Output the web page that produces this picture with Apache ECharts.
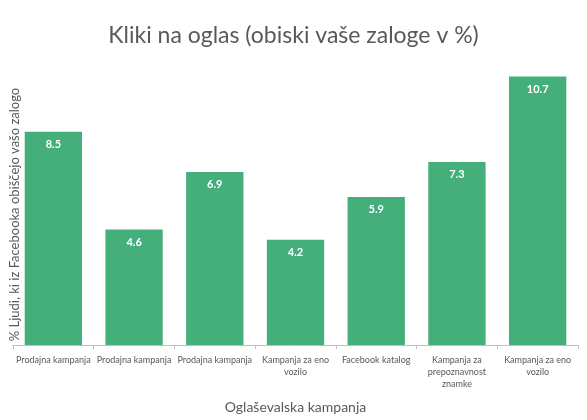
<!DOCTYPE html>
<html>
<head>
<meta charset="utf-8">
<script src="https://cdn.jsdelivr.net/npm/echarts@6/dist/echarts.min.js"></script>
<style>
  html, body { margin: 0; padding: 0; background: #fff; }
  #chart { width: 587px; height: 420px; }
</style>
</head>
<body>
<div id="chart"></div>
<script>
// podatki
const campaigns = [
  'Prodajna kampanja',
  'Prodajna kampanja',
  'Prodajna kampanja',
  'Kampanja za eno\nvozilo',
  'Facebook katalog',
  'Kampanja za\nprepoznavnost\nznamke',
  'Kampanja za eno\nvozilo'
];
const clicks = [8.5, 4.6, 6.9, 4.2, 5.9, 7.3, 10.7];

const textGray = '#595959';
const fontName = 'Lato';

const chart = echarts.init(document.getElementById('chart'));
chart.setOption({
  backgroundColor: '#fff',
  animation: false,
  title: {
    text: 'Kliki na oglas (obiski vaše zaloge v %)',
    left: 'center',
    top: 19,
    textStyle: { color: textGray, fontSize: 23, fontWeight: 'normal', fontFamily: fontName }
  },
  grid: { left: 13, right: 9, top: 44, bottom: 75, outerBoundsMode: 'none' },
  xAxis: {
    type: 'category',
    data: campaigns,
    name: 'Oglaševalska kampanja',
    nameLocation: 'middle',
    nameGap: 55,
    nameTextStyle: { color: textGray, fontSize: 14, fontFamily: fontName },
    axisLine: { lineStyle: { color: '#bfbfbf' } },
    axisTick: { show: true, length: 4, lineStyle: { color: '#bfbfbf' } },
    axisLabel: {
      color: textGray, fontSize: 9, fontFamily: fontName,
      margin: 9, lineHeight: 12, interval: 0
    }
  },
  yAxis: {
    type: 'value',
    min: 0,
    max: 12,
    name: '% Ljudi, ki iz Facebooka obiščejo vašo zalogo',
    nameLocation: 'middle',
    nameGap: -8,
    nameTextStyle: { color: textGray, fontSize: 13, fontFamily: fontName, padding: [0, 40, 0, 0] },
    axisLine: { show: false },
    axisTick: { show: false },
    axisLabel: { show: false },
    splitLine: { show: false }
  },
  series: [{
    type: 'bar',
    data: clicks,
    barCategoryGap: '29%',
    itemStyle: { color: '#44af7b' },
    label: {
      show: true,
      position: 'insideTop',
      distance: 7,
      color: '#fff',
      fontSize: 11,
      fontWeight: 'bold',
      fontFamily: fontName,
      formatter: p => p.value.toFixed(1)
    }
  }]
});
</script>
</body>
</html>
